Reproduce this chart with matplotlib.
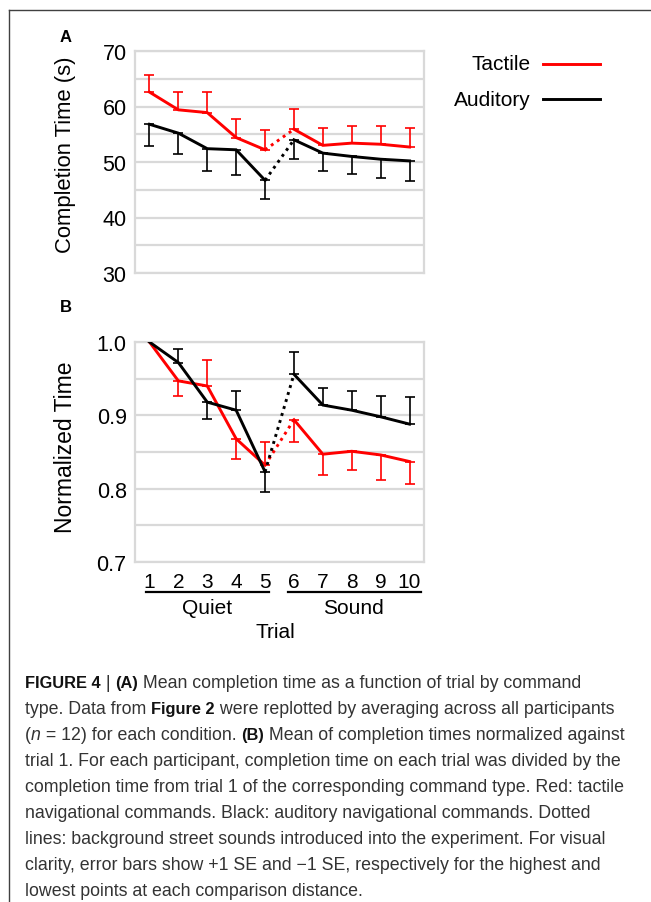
import numpy as np
import matplotlib
matplotlib.use("Agg")
import matplotlib.pyplot as plt
from matplotlib.lines import Line2D

plt.rcParams['font.family'] = ['Liberation Sans', 'DejaVu Sans']

W, H = 651, 903

trials = np.arange(1, 11)
xtick_labels = [str(t) for t in trials]

# panel A: completion time (s)
tactile_time = [62.6, 59.4, 58.9, 54.4, 52.2, 55.9, 53.0, 53.4, 53.2, 52.7]
auditory_time = [56.8, 55.2, 52.4, 52.2, 46.7, 54.0, 51.6, 51.0, 50.5, 50.2]
tactile_time_se = [3.1, 3.3, 3.7, 3.4, 3.5, 3.6, 3.2, 3.1, 3.3, 3.5]
auditory_time_se = [3.9, 3.8, 4.0, 4.6, 3.3, 3.4, 3.2, 3.2, 3.3, 3.6]

# panel B: normalized time
tactile_norm = [1.0, 0.947, 0.940, 0.868, 0.832, 0.894, 0.847, 0.851, 0.846, 0.837]
auditory_norm = [1.0, 0.972, 0.918, 0.907, 0.823, 0.956, 0.914, 0.907, 0.898, 0.888]
tactile_norm_se = [0.0, 0.020, 0.036, 0.028, 0.031, 0.030, 0.028, 0.025, 0.034, 0.030]
auditory_norm_se = [0.0, 0.019, 0.023, 0.026, 0.027, 0.030, 0.023, 0.026, 0.029, 0.037]

RED = '#ff0000'
BLACK = '#000000'
GRID = '#d9d9d9'
FS = 15


def fx(px):
    return px / W


def fy(py):
    return 1 - py / H


def draw_series(ax, y, se, color, up_mask):
    y = np.asarray(y)
    se = np.asarray(se)
    x = trials
    # error bars: one-sided
    lo = np.where(up_mask, 0, se)
    hi = np.where(up_mask, se, 0)
    keep = se > 0
    ax.errorbar(x[keep], y[keep], yerr=[lo[keep], hi[keep]], fmt='none',
                ecolor=color, elinewidth=1.2, capsize=3.5, capthick=1.2, zorder=3)
    ax.plot(x[:5], y[:5], color=color, lw=2.1, zorder=4, solid_joinstyle='miter')
    ax.plot(x[4:6], y[4:6], color=color, lw=2.1, ls=(0, (1, 1.5)), zorder=4)
    ax.plot(x[5:], y[5:], color=color, lw=2.1, zorder=4, solid_joinstyle='miter')


def style_axes(ax, ylim, major, minor):
    ax.set_xlim(0.5, 10.5)
    ax.set_ylim(*ylim)
    ax.set_yticks(major)
    ax.set_yticks(minor, minor=True)
    ax.grid(True, axis='y', which='both', color=GRID, lw=1.6, zorder=0)
    ax.set_axisbelow(True)
    for s in ax.spines.values():
        s.set_color(GRID)
        s.set_linewidth(1.6)
    ax.tick_params(axis='y', which='both', length=0, pad=6, labelsize=15.5)
    ax.tick_params(axis='x', length=0)


fig = plt.figure(figsize=(W / 100, H / 100), dpi=100)

left, right = 135, 424
axA = fig.add_axes([fx(left), fy(274), (right - left) / W, (274 - 52) / H])
axB = fig.add_axes([fx(left), fy(563), (right - left) / W, (563 - 343) / H])

# panel A
style_axes(axA, (30, 70), np.arange(30, 71, 10), np.arange(35, 70, 10))
axA.set_yticklabels([str(v) for v in range(30, 71, 10)])
axA.set_xticks([])
up_a = np.array(tactile_time) >= np.array(auditory_time)
draw_series(axA, tactile_time, tactile_time_se, RED, up_a)
draw_series(axA, auditory_time, auditory_time_se, BLACK, ~up_a)

# panel B
style_axes(axB, (0.7, 1.0), np.arange(0.7, 1.001, 0.1), np.arange(0.75, 1.0, 0.1))
axB.set_yticklabels(['0.7', '0.8', '0.9', '1.0'])
axB.set_xticks(trials)
axB.set_xticklabels(xtick_labels)
axB.tick_params(axis='x', pad=7, labelsize=FS)
up_b = np.array(tactile_norm) > np.array(auditory_norm)
draw_series(axB, tactile_norm, tactile_norm_se, RED, up_b)
draw_series(axB, auditory_norm, auditory_norm_se, BLACK, ~up_b)

# group underlines and labels
trans = axB.get_xaxis_transform()
axB.plot([0.88, 5.15], [-0.136, -0.136], color=BLACK, lw=1.6, transform=trans, clip_on=False)
axB.plot([5.81, 10.4], [-0.136, -0.136], color=BLACK, lw=1.6, transform=trans, clip_on=False)
axB.text(3.0, -0.205, 'Quiet', transform=trans, ha='center', va='center', fontsize=FS)
axB.text(8.05, -0.205, 'Sound', transform=trans, ha='center', va='center', fontsize=FS)
axB.text(5.35, -0.315, 'Trial', transform=trans, ha='center', va='center', fontsize=FS)

# y labels and panel letters
fig.text(fx(65), fy(155), 'Completion Time (s)', rotation=90, ha='center', va='center', fontsize=15.8)
fig.text(fx(65), fy(447), 'Normalized Time', rotation=90, ha='center', va='center', fontsize=16.5)
fig.text(fx(66), fy(37), 'A', ha='center', va='center', fontsize=12, fontweight='bold')
fig.text(fx(66), fy(308), 'B', ha='center', va='center', fontsize=12, fontweight='bold')

# legend
for label, color, py in [('Tactile', RED, 65), ('Auditory', BLACK, 100)]:
    fig.text(fx(531), fy(py), label, ha='right', va='center', fontsize=FS)
    fig.add_artist(Line2D([fx(543), fx(600)], [fy(py), fy(py)], color=color, lw=2.1))

# open frame (top and left)
fig.add_artist(Line2D([fx(8.5), fx(651)], [fy(10.5), fy(10.5)], color='#404040', lw=1.0))
fig.add_artist(Line2D([fx(8.5), fx(8.5)], [fy(10.5), fy(903)], color='#404040', lw=1.0))

# caption
caption = [
    [('FIGURE 4', 'bold', 'normal'), (' | ', 'normal', 'normal'), ('(A)', 'bold', 'normal'),
     (' Mean completion time as a function of trial by command', 'normal', 'normal')],
    [('type. Data from ', 'normal', 'normal'), ('Figure 2', 'bold', 'normal'),
     (' were replotted by averaging across all participants', 'normal', 'normal')],
    [('(', 'normal', 'normal'), ('n', 'normal', 'italic'), (' = 12) for each condition. ', 'normal', 'normal'),
     ('(B)', 'bold', 'normal'), (' Mean of completion times normalized against', 'normal', 'normal')],
    [('trial 1. For each participant, completion time on each trial was divided by the', 'normal', 'normal')],
    [('completion time from trial 1 of the corresponding command type. Red: tactile', 'normal', 'normal')],
    [('navigational commands. Black: auditory navigational commands. Dotted', 'normal', 'normal')],
    [('lines: background street sounds introduced into the experiment. For visual', 'normal', 'normal')],
    [('clarity, error bars show +1 SE and \u22121 SE, respectively for the highest and', 'normal', 'normal')],
    [('lowest points at each comparison distance.', 'normal', 'normal')],
]

renderer = fig.canvas.get_renderer()
for i, segs in enumerate(caption):
    px = 25.0
    py = 688 + 26 * i
    for txt, weight, style in segs:
        bold = weight == 'bold'
        t = fig.text(fx(px), fy(py), txt, ha='left', va='baseline',
                     fontsize=11.8 if bold else 12.8, fontweight=weight, fontstyle=style,
                     color='#111111' if bold else '#333333')
        px += t.get_window_extent(renderer=renderer).width

fig.savefig('out.png', dpi=100)
